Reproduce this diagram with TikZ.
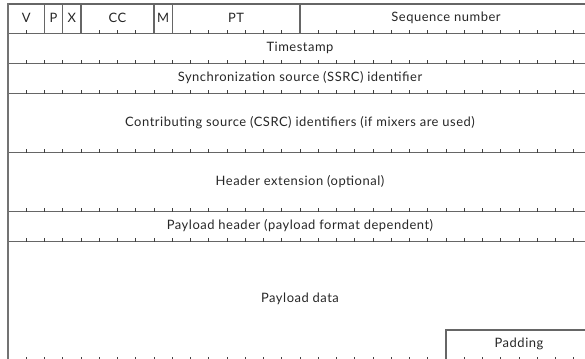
\documentclass[tikz,border=0pt]{standalone}
\usepackage{fontspec}
\setmainfont{Lato}[LetterSpace=4]
\begin{document}
\begin{tikzpicture}[x=1bp,y=-1bp,
  rule/.style={draw=black!60, line width=1.3bp},
  border/.style={draw=black!55, line width=2bp},
  tickmark/.style={draw=black!75, line width=1bp},
  lab/.style={font=\fontsize{13}{15}\selectfont, text=black!85, inner sep=0pt, anchor=center}]
\useasboundingbox (0,0) rectangle (585,358);
\clip (0,0) rectangle (585,358);
% horizontal rules
\foreach \y in {4,33.5,63.5,93.5,152.5,211.5,241.5,360}
  \draw[rule] (8,\y) -- (600,\y);
% ticks
\foreach \y in {33.5,63.5,93.5,152.5,211.5,241.5,360}
  \foreach \b in {1,...,31}
    \draw[tickmark] ({8+18.25*\b},\y) -- ++(0,-3.2);
% left border
\draw[border] (8,3) -- (8,362);
% first row dividers
\foreach \b in {2,3,4,8,9,16}
  \draw[rule] ({8+18.25*\b},4) -- ({8+18.25*\b},33.5);
% padding box
\draw[rule] ({8+18.25*24},360) -- ({8+18.25*24},330) -- (600,330);
% labels
\node[lab] (v)   at ({8+18.25*1},18)    {V};
\node[lab] (p)   at ({8+18.25*2.5},18)  {P};
\node[lab] (x)   at ({8+18.25*3.5},18)  {X};
\node[lab] (cc)  at ({8+18.25*6},18)    {CC};
\node[lab] (m)   at ({8+18.25*8.5},18)  {M};
\node[lab] (pt)  at ({8+18.25*12.5},18) {PT};
\node[lab] (seq) at ({8+18.25*24},18)   {Sequence number};
\node[lab] (ts)  at (300,47.5)  {Timestamp};
\node[lab] (ssrc) at (300,77.5) {Synchronization source (SSRC) identifier};
\node[lab] (csrc) at (300,122.5) {Contributing source (CSRC) identifiers (if mixers are used)};
\node[lab] (hext) at (300,181.5) {Header extension (optional)};
\node[lab] (phdr) at (300,225.5) {Payload header (payload format dependent)};
\node[lab] (pdata) at (300,299) {Payload data};
\node[lab] (pad) at ({8+18.25*28},344) {Padding};
\end{tikzpicture}
\end{document}
